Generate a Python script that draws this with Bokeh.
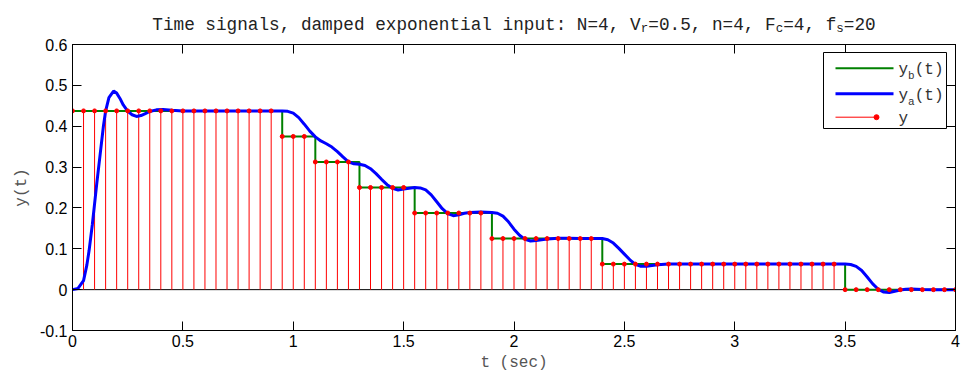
import numpy as np
from bokeh.plotting import figure
from bokeh.layouts import column
from bokeh.models import (FixedTicker, LinearAxis, Range1d, Span, BoxAnnotation,
                          Label, Arrow, ColumnDataSource)
from bokeh.embed import file_html
from bokeh.resources import INLINE

# ---------------- data ----------------
fs = 20
t_samples = [k / fs for k in range(81)]
y_samples = [
    0.4375, 0.4375, 0.4375, 0.4375, 0.4375, 0.4375, 0.4375, 0.4375, 0.4375, 0.4375,
    0.4375, 0.4375, 0.4375, 0.4375, 0.4375, 0.4375, 0.4375, 0.4375, 0.4375,
    0.375, 0.375, 0.375,
    0.3125, 0.3125, 0.3125, 0.3125,
    0.25, 0.25, 0.25, 0.25, 0.25,
    0.1875, 0.1875, 0.1875, 0.1875, 0.1875, 0.1875, 0.1875,
    0.125, 0.125, 0.125, 0.125, 0.125, 0.125, 0.125, 0.125, 0.125, 0.125,
    0.0625, 0.0625, 0.0625, 0.0625, 0.0625, 0.0625, 0.0625, 0.0625, 0.0625, 0.0625,
    0.0625, 0.0625, 0.0625, 0.0625, 0.0625, 0.0625, 0.0625, 0.0625, 0.0625, 0.0625,
    0.0625, 0.0625,
    0.0, 0.0, 0.0, 0.0, 0.0, 0.0, 0.0, 0.0, 0.0, 0.0, 0.0,
]

ya_t = [0.000, 0.025, 0.050, 0.065, 0.075, 0.090, 0.100, 0.110, 0.125, 0.140,
        0.150, 0.165, 0.186, 0.200, 0.215, 0.230, 0.250, 0.270, 0.290, 0.310,
        0.330, 0.350, 0.380, 0.410, 0.450, 0.500, 0.600, 0.800, 0.950, 0.975,
        1.000, 1.025, 1.050, 1.075, 1.100, 1.125, 1.150, 1.175, 1.200, 1.225,
        1.250, 1.275, 1.300, 1.325, 1.350, 1.375, 1.400, 1.425, 1.450, 1.475,
        1.500, 1.525, 1.550, 1.575, 1.600, 1.625, 1.650, 1.675, 1.700, 1.725,
        1.750, 1.775, 1.800, 1.850, 1.900, 1.925, 1.950, 1.975, 2.000, 2.025,
        2.050, 2.075, 2.100, 2.150, 2.200, 2.250, 2.300, 2.400, 2.425, 2.450,
        2.475, 2.500, 2.525, 2.550, 2.575, 2.600, 2.625, 2.650, 2.700, 2.800,
        3.000, 3.500, 3.525, 3.550, 3.575, 3.600, 3.625, 3.650, 3.675, 3.700,
        3.725, 3.750, 3.775, 3.800, 3.850, 3.900, 4.000]
ya_y = [0.000, 0.003, 0.022, 0.060, 0.095, 0.160, 0.210, 0.260, 0.330, 0.400,
        0.437, 0.470, 0.486, 0.481, 0.468, 0.452, 0.437, 0.428, 0.424, 0.426,
        0.431, 0.436, 0.440, 0.441, 0.439, 0.437, 0.4375, 0.4375, 0.4375, 0.4365,
        0.432, 0.421, 0.405, 0.388, 0.374, 0.364, 0.357, 0.349, 0.338, 0.325,
        0.313, 0.308, 0.307, 0.304, 0.296, 0.284, 0.270, 0.257, 0.248, 0.244,
        0.246, 0.248, 0.250, 0.249, 0.244, 0.232, 0.215, 0.198, 0.186, 0.181,
        0.183, 0.187, 0.189, 0.190, 0.189, 0.187, 0.180, 0.166, 0.148, 0.133,
        0.123, 0.119, 0.120, 0.124, 0.126, 0.1255, 0.125, 0.125, 0.122, 0.114,
        0.101, 0.087, 0.073, 0.062, 0.057, 0.057, 0.059, 0.061, 0.063, 0.0625,
        0.0625, 0.0625, 0.0615, 0.057, 0.047, 0.031, 0.014, 0.001, -0.006, -0.007,
        -0.004, -0.001, 0.001, 0.0015, 0.0005, 0.0, 0.0]

x_ticks = [0, 0.5, 1, 1.5, 2, 2.5, 3, 3.5, 4]
x_tick_labels = ["0", "0.5", "1", "1.5", "2", "2.5", "3", "3.5", "4"]
y_ticks = [-0.1, 0, 0.1, 0.2, 0.3, 0.4, 0.5, 0.6]
y_tick_labels = ["-0.1", "0", "0.1", "0.2", "0.3", "0.4", "0.5", "0.6"]

title_parts = [("Time signals, damped exponential input: N=4, V", False), ("r", True),
               ("=0.5, n=4, F", False), ("c", True), ("=4, f", False), ("s", True),
               ("=20", False)]
legend_entries = [("y", "b", "(t)", "#008000", 2), ("y", "a", "(t)", "#0000ff", 3),
                  ("y", "", "", "#ff0000", 1)]

# ---------------- layout constants (pixels) ----------------
W, H = 961, 375
TH = 36                      # title strip height
FL, FT, FW, FH = 72, 44, 883, 286
X0, X1, Y0, Y1 = 0, 4, -0.1, 0.6

def dx(px):
    return X0 + (px - FL) / FW * (X1 - X0)

def dy(py):
    return Y1 - (py - FT) / FH * (Y1 - Y0)

MONO = "Liberation Mono"
SANS = "Liberation Sans"

# ---------------- title strip (its frame aligns with the main frame: FL..FL+FW) ----------------
tf = figure(width=W, height=TH, x_range=Range1d(FL, FL + FW), y_range=Range1d(0, TH),
            output_backend="svg", toolbar_location=None,
            x_axis_location=None, y_axis_location=None,
            min_border_left=0, min_border_right=0, min_border_top=0, min_border_bottom=0)
tf.outline_line_color = None
tf.xgrid.grid_line_color = None
tf.ygrid.grid_line_color = None
tf.background_fill_color = "white"
tf.border_fill_color = "white"

TB, TS = 17.7, 12.5
cwb, cws = 0.6 * TB, 0.6 * TS
total = sum(len(s) * (cws if sub else cwb) for s, sub in title_parts)
xpos = FL + FW / 2 - total / 2
for s, sub in title_parts:
    tf.add_layout(Label(x=xpos, y=TH - (24 + (4 if sub else 0)), text=s, text_font=MONO,
                        text_font_size=f"{TS if sub else TB}px", text_color="#222222",
                        text_baseline="alphabetic", text_align="left"))
    xpos += len(s) * (cws if sub else cwb)

# ---------------- main plot ----------------
p = figure(frame_width=FW, frame_height=FH, x_range=Range1d(X0, X1), y_range=Range1d(Y0, Y1),
           output_backend="svg", toolbar_location=None,
           min_border_left=FL, min_border_right=W - FL - FW, min_border_top=FT - TH,
           min_border_bottom=H - FT - FH,
           x_axis_label="t (sec)", y_axis_label="y(t)")
p.background_fill_color = "white"
p.border_fill_color = "white"
p.outline_line_color = "black"
p.outline_line_width = 1
p.xgrid.grid_line_color = None
p.ygrid.grid_line_color = None

for ax, ticks, labels in [(p.xaxis[0], x_ticks, x_tick_labels), (p.yaxis[0], y_ticks, y_tick_labels)]:
    ax.ticker = FixedTicker(ticks=ticks)
    ax.major_label_overrides = {k: v for k, v in zip(ticks, labels)}
    ax.major_tick_in = 9
    ax.major_tick_out = 0
    ax.minor_tick_line_color = None
    ax.major_label_text_font = SANS
    ax.major_label_text_font_size = "16px"
    ax.major_label_text_color = "black"
    ax.axis_label_text_font = MONO
    ax.axis_label_text_font_size = "16px"
    ax.axis_label_text_font_style = "normal"
    ax.axis_label_text_color = "#555555"
    ax.axis_line_color = "black"
p.xaxis[0].major_label_standoff = 4
p.xaxis[0].axis_label_standoff = 4
p.yaxis[0].major_label_standoff = 5
p.yaxis[0].axis_label_standoff = 6

for loc, ticks in [("above", x_ticks), ("right", y_ticks)]:
    ax = LinearAxis(ticker=FixedTicker(ticks=ticks), major_tick_in=9, major_tick_out=0,
                    minor_tick_line_color=None, major_label_text_font_size="0px",
                    major_label_text_color=None, major_label_text_alpha=0,
                    major_label_standoff=0, axis_line_color="black")
    p.add_layout(ax, loc)

src = ColumnDataSource(dict(t=t_samples, y=y_samples, z=[0.0] * len(t_samples)))

p.add_layout(Span(location=0, dimension="width", line_color="black", line_width=1, level="underlay"))
p.segment(x0="t", y0="z", x1="t", y1="y", source=src, line_color="#ff0000", line_width=1)
p.step(x="t", y="y", source=src, mode="after", line_color="#008000", line_width=2)
p.line(ya_t, ya_y, line_color="#0000ff", line_width=3)
p.scatter(x="t", y="y", source=src, size=4, color="#ff0000")

# ---------------- legend ----------------
p.add_layout(BoxAnnotation(left=dx(823), right=dx(946), top=dy(52), bottom=dy(128),
                           fill_color="white", fill_alpha=1, line_color="black",
                           line_width=1, line_alpha=1))
row_py = [67.7, 93.3, 116.7]
LB, LS = 16, 11
for (base, sub, tail, col, lw), py in zip(legend_entries, row_py):
    xend = 893 if sub else 876
    p.add_layout(Arrow(end=None, x_start=dx(835), y_start=dy(py), x_end=dx(xend), y_end=dy(py),
                       line_color=col, line_width=lw))
    xp = 898
    p.add_layout(Label(x=dx(xp), y=dy(py + 2), text=base, text_font=MONO,
                       text_font_size=f"{LB}px", text_color="#333333",
                       text_baseline="alphabetic"))
    xp += 0.6 * LB
    if sub:
        p.add_layout(Label(x=dx(xp), y=dy(py + 8), text=sub, text_font=MONO,
                           text_font_size=f"{LS}px", text_color="#333333",
                           text_baseline="alphabetic"))
        xp += 0.6 * LS
        p.add_layout(Label(x=dx(xp), y=dy(py + 2), text=tail, text_font=MONO,
                           text_font_size=f"{LB}px", text_color="#333333",
                           text_baseline="alphabetic"))
    else:
        p.scatter([dx(876)], [dy(py)], size=5, color="#ff0000", level="overlay")

layout = column(tf, p, spacing=0)
open("out.html", "w").write(file_html(layout, INLINE))
